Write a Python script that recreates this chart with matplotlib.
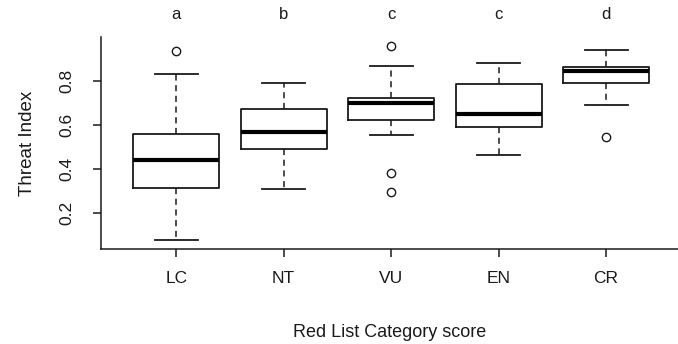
import matplotlib.pyplot as plt
from matplotlib.transforms import blended_transform_factory

plt.rcParams['font.family'] = ['Liberation Sans', 'DejaVu Sans']
narrow = ['Liberation Sans Narrow', 'Liberation Sans', 'DejaVu Sans']

# Box summaries
categories = ['LC', 'NT', 'VU', 'EN', 'CR']
whisker_low = [0.077, 0.309, 0.553, 0.464, 0.692]
q1 = [0.315, 0.489, 0.624, 0.592, 0.791]
medians = [0.441, 0.568, 0.699, 0.650, 0.845]
q3 = [0.559, 0.673, 0.724, 0.789, 0.865]
whisker_high = [0.833, 0.791, 0.871, 0.883, 0.941]
outliers = [[0.936], [], [0.962, 0.382, 0.297], [], [0.544]]
letters = ['a', 'b', 'c', 'c', 'd']

stats = []
for i in range(len(categories)):
    stats.append({'whislo': whisker_low[i], 'q1': q1[i], 'med': medians[i],
                  'q3': q3[i], 'whishi': whisker_high[i], 'fliers': outliers[i]})

fig = plt.figure(figsize=(6.78, 3.44), dpi=100)
ax = fig.add_axes([0.149, 0.276, 0.851, 0.616])

lc = '#1a1a1a'
ax.bxp(stats, positions=range(1, 6), widths=0.8, showfliers=True,
       boxprops=dict(color=lc, linewidth=1.3),
       medianprops=dict(color='black', linewidth=3),
       whiskerprops=dict(color=lc, linewidth=1.1, linestyle=(0, (4, 3))),
       capprops=dict(color=lc, linewidth=1.3),
       capwidths=0.4,
       flierprops=dict(marker='o', markersize=6, markerfacecolor='none',
                       markeredgecolor=lc, markeredgewidth=1.0))

ax.set_xlim(0.30, 5.67)
ax.set_ylim(0.036, 1.0)
ax.set_xticks(range(1, 6))
ax.set_xticklabels(categories, family=narrow, fontsize=12.5)
ax.set_yticks([0.2, 0.4, 0.6, 0.8])
ax.set_yticklabels(['0.2', '0.4', '0.6', '0.8'], fontsize=12.5)
plt.setp(ax.get_yticklabels(), rotation=90, va='center')

for side in ['top', 'right']:
    ax.spines[side].set_visible(False)
for side in ['left', 'bottom']:
    ax.spines[side].set_color(lc)
    ax.spines[side].set_linewidth(1.1)
ax.tick_params(colors=lc, labelcolor='#1a1a1a', length=6, width=1.1)
ax.tick_params(axis='x', pad=10)
ax.tick_params(axis='y', pad=13)

ax.set_ylabel('Threat Index', fontsize=13.5, color='#1a1a1a', labelpad=17)
ax.set_xlabel('Red List Category score', fontsize=13, color='#1a1a1a', labelpad=27)

trans = blended_transform_factory(ax.transData, ax.transAxes)
for i, let in enumerate(letters):
    ax.text(i + 1, 1.105, let, transform=trans, ha='center', va='center',
            fontsize=12, family=narrow, color='#1a1a1a')

fig.savefig('out.png', dpi=100)
